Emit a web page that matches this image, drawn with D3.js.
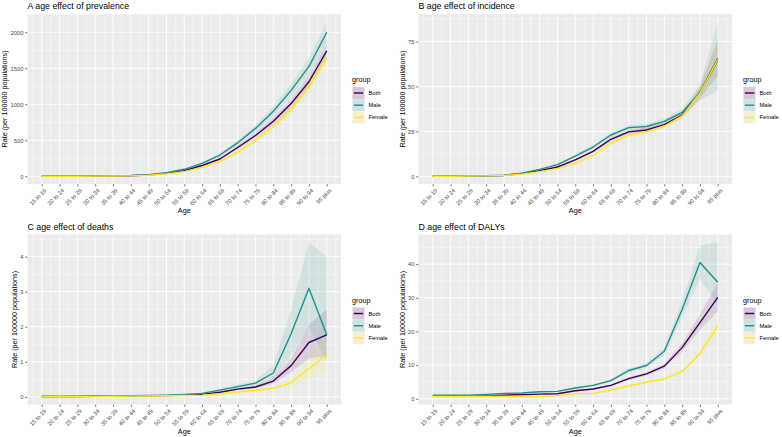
<!DOCTYPE html>
<html><head><meta charset="utf-8">
<script src="https://cdn.jsdelivr.net/npm/d3@7"></script>
<style>
html,body{margin:0;padding:0;background:#fff;}
svg text{font-family:"Liberation Sans",Arial,Helvetica,sans-serif;font-weight:normal;}
</style></head>
<body>
<svg id="chart" width="782" height="437"></svg>
<script>
const ages = ["15 to 19","20 to 24","25 to 29","30 to 34","35 to 39","40 to 44","45 to 49","50 to 54","55 to 59","60 to 64","65 to 69","70 to 74","75 to 79","80 to 84","85 to 89","90 to 94","95 plus"];
const groups = ["Both","Male","Female"];
const colors = ["#440154","#21908C","#FDE725"];

// A prevalence
const prevBoth   = [0.5,1,1.5,2.5,4,8,18,40,78,150,240,400,567,765,1009,1313,1742];
const prevBothLo = [0.4,0.9,1.3,2.2,3.6,7.3,16.6,37,72,139,223,372,528,713,940,1222,1640];
const prevBothHi = [0.6,1.1,1.7,2.8,4.4,8.7,19.4,43,84,161,257,428,606,817,1078,1404,1845];
const prevMale   = [0.6,1.2,2,3,5,10,23,50,97,180,295,465,665,903,1193,1525,2000];
const prevMaleLo = [0.5,1.0,1.8,2.7,4.5,9.2,21,46,89,166,272,430,612,836,1105,1410,1860];
const prevMaleHi = [0.7,1.4,2.2,3.3,5.5,10.8,25,54,105,194,318,500,708,970,1281,1640,2146];
const prevFemale   = [0.4,0.8,1.2,2,3.5,6,14,32,65,120,203,336,498,687,926,1240,1636];
const prevFemaleLo = [0.3,0.7,1.1,1.8,3.2,5.5,12.9,29.5,60,111,188,311,462,638,860,1152,1540];
const prevFemaleHi = [0.5,0.9,1.3,2.2,3.8,6.5,15.1,34.5,70,129,218,361,534,736,992,1328,1730];
const prevTicks = [0,500,1000,1500,2000];

// B incidence
const incBoth   = [0.05,0.1,0.2,0.3,0.5,1.5,3.2,5.2,9.1,13.9,20.6,24.7,25.8,28.8,34.1,46.6,65.5];
const incBothLo = [0.04,0.08,0.17,0.26,0.44,1.35,2.9,4.8,8.5,13.1,19.6,23.6,24.6,27.5,32.5,43.5,56];
const incBothHi = [0.06,0.12,0.23,0.34,0.56,1.65,3.5,5.6,9.7,14.7,21.6,25.8,27.0,30.1,35.7,49.8,76];
const incMale   = [0.05,0.12,0.22,0.35,0.6,1.7,3.9,6.5,11.3,16.3,23.0,27.1,27.7,30.6,35.6,46.4,64.4];
const incMaleLo = [0.04,0.1,0.19,0.3,0.52,1.5,3.5,5.9,10.4,15.2,21.7,25.7,26.3,29.0,33.7,42,48];
const incMaleHi = [0.06,0.14,0.25,0.4,0.68,1.9,4.3,7.1,12.2,17.4,24.3,28.5,29.1,32.2,37.5,51,86];
const incFemale   = [0.04,0.08,0.18,0.25,0.45,1.2,2.6,4.3,7.2,11.7,18.4,23.0,24.7,28.0,33.6,46.2,65.1];
const incFemaleLo = [0.03,0.06,0.15,0.21,0.39,1.05,2.3,3.9,6.6,10.9,17.3,21.8,23.4,26.6,31.8,43,56];
const incFemaleHi = [0.05,0.1,0.21,0.29,0.51,1.35,2.9,4.7,7.8,12.5,19.5,24.2,26.0,29.4,35.4,49.5,75];
const incTicks = [0,25,50,75];

// C deaths
const dthBoth   = [0.01,0.01,0.01,0.015,0.02,0.025,0.03,0.035,0.05,0.07,0.13,0.22,0.28,0.45,0.89,1.55,1.77];
const dthBothLo = [0.005,0.006,0.007,0.01,0.014,0.018,0.022,0.027,0.04,0.058,0.11,0.19,0.24,0.37,0.7,1.1,1.15];
const dthBothHi = [0.015,0.014,0.013,0.02,0.026,0.032,0.038,0.043,0.06,0.082,0.15,0.25,0.32,0.53,1.1,2.05,2.5];
const dthMale   = [0.01,0.012,0.015,0.02,0.025,0.03,0.04,0.05,0.07,0.1,0.19,0.29,0.39,0.68,1.8,3.1,1.77];
const dthMaleLo = [0.004,0.006,0.008,0.012,0.016,0.02,0.028,0.036,0.052,0.078,0.15,0.23,0.32,0.5,1.2,2.0,1.0];
const dthMaleHi = [0.016,0.018,0.022,0.028,0.034,0.04,0.052,0.064,0.088,0.122,0.23,0.35,0.46,0.9,2.5,4.41,4.0];
const dthFemale   = [0.005,0.008,0.01,0.012,0.015,0.02,0.025,0.03,0.04,0.05,0.09,0.14,0.18,0.25,0.4,0.81,1.2];
const dthFemaleLo = [0.002,0.004,0.006,0.007,0.009,0.013,0.017,0.021,0.03,0.04,0.075,0.115,0.15,0.2,0.3,0.5,0.72];
const dthFemaleHi = [0.008,0.012,0.014,0.017,0.021,0.027,0.033,0.039,0.05,0.06,0.105,0.165,0.21,0.3,0.5,1.15,1.7];
const dthTicks = [0,1,2,3,4];

// D DALYs
const dalyBoth   = [0.8,0.85,0.8,0.9,1.1,1.2,1.4,1.5,2.4,2.9,4.0,6.0,7.4,9.7,15.2,22.6,30.1];
const dalyBothLo = [0.7,0.75,0.7,0.8,1.0,1.1,1.3,1.4,2.2,2.7,3.7,5.6,6.9,9.0,14.0,20.5,26];
const dalyBothHi = [0.9,0.95,0.9,1.0,1.2,1.3,1.5,1.6,2.6,3.1,4.3,6.4,7.9,10.4,16.4,25,34.5];
const dalyMale   = [1.1,1.1,1.1,1.3,1.6,1.7,2.1,2.2,3.2,4.0,5.4,8.4,9.9,14.1,26.5,40.5,34.6];
const dalyMaleLo = [1.0,1.0,1.0,1.2,1.5,1.6,1.9,2.0,2.9,3.7,5.0,7.8,9.2,13.0,24.0,35.5,28];
const dalyMaleHi = [1.2,1.2,1.2,1.4,1.7,1.8,2.3,2.4,3.5,4.3,5.8,9.0,10.6,15.2,29,45.5,46.5];
const dalyFemale   = [0.7,0.7,0.7,0.75,0.7,0.75,0.7,0.95,1.5,1.6,2.6,3.8,4.9,5.9,8.1,13.4,21.6];
const dalyFemaleLo = [0.6,0.6,0.6,0.65,0.6,0.65,0.6,0.85,1.35,1.45,2.4,3.5,4.5,5.5,7.5,12.5,19.5];
const dalyFemaleHi = [0.8,0.8,0.8,0.85,0.8,0.85,0.8,1.05,1.65,1.75,2.8,4.1,5.3,6.3,8.7,14.5,24];
const dalyTicks = [0,10,20,30,40];

const panels = [
  {title:"A age effect of prevalence", col:0, row:0, ticks:prevTicks,
   series:[[prevBoth,prevBothLo,prevBothHi],[prevMale,prevMaleLo,prevMaleHi],[prevFemale,prevFemaleLo,prevFemaleHi]]},
  {title:"B age effect of incidence", col:1, row:0, ticks:incTicks,
   series:[[incBoth,incBothLo,incBothHi],[incMale,incMaleLo,incMaleHi],[incFemale,incFemaleLo,incFemaleHi]]},
  {title:"C age effect of deaths", col:0, row:1, ticks:dthTicks,
   series:[[dthBoth,dthBothLo,dthBothHi],[dthMale,dthMaleLo,dthMaleHi],[dthFemale,dthFemaleLo,dthFemaleHi]]},
  {title:"D age effect of DALYs", col:1, row:1, ticks:dalyTicks,
   series:[[dalyBoth,dalyBothLo,dalyBothHi],[dalyMale,dalyMaleLo,dalyMaleHi],[dalyFemale,dalyFemaleLo,dalyFemaleHi]]}
];

const svg = d3.select("#chart");
const PW = 313.5, PH = 170;
const colX = [27.5, 418.5], rowY = [14, 234.5];
const ribbonAlpha = 0.12;
const tickCol = "#4D4D4D";

panels.forEach(p => {
  const x0 = colX[p.col], y0 = rowY[p.row];
  const g = svg.append("g").attr("transform", `translate(${x0},${y0})`);
  const n = ages.length;
  const x = d3.scaleLinear().domain([1 - 0.05*(n-1), n + 0.05*(n-1)]).range([0, PW]);
  let lo = Infinity, hi = -Infinity;
  p.series.forEach(s => s.forEach(a => a.forEach(v => { lo = Math.min(lo, v); hi = Math.max(hi, v); })));
  const R = hi - lo;
  const y = d3.scaleLinear().domain([lo - 0.05*R, hi + 0.05*R]).range([PH, 0]);

  g.append("rect").attr("width", PW).attr("height", PH).attr("fill", "#EBEBEB");
  const step = p.ticks[1] - p.ticks[0];
  const yMinor = [];
  for (let i = -1; i < p.ticks.length; i++) {
    const v = p.ticks[0] + step*(i + 0.5);
    if (v > y.domain()[0] && v < y.domain()[1]) yMinor.push(v);
  }
  const xMinor = d3.range(0.5, n + 1, 1).filter(v => v > x.domain()[0] && v < x.domain()[1]);
  g.selectAll(".ymin").data(yMinor).join("line")
    .attr("x1", 0).attr("x2", PW).attr("y1", d => y(d)).attr("y2", d => y(d))
    .attr("stroke", "#fff").attr("stroke-width", 0.45);
  g.selectAll(".xmin").data(xMinor).join("line")
    .attr("y1", 0).attr("y2", PH).attr("x1", d => x(d)).attr("x2", d => x(d))
    .attr("stroke", "#fff").attr("stroke-width", 0.45);
  g.selectAll(".ymaj").data(p.ticks).join("line")
    .attr("x1", 0).attr("x2", PW).attr("y1", d => y(d)).attr("y2", d => y(d))
    .attr("stroke", "#fff").attr("stroke-width", 0.9);
  g.selectAll(".xmaj").data(d3.range(1, n + 1)).join("line")
    .attr("y1", 0).attr("y2", PH).attr("x1", d => x(d)).attr("x2", d => x(d))
    .attr("stroke", "#fff").attr("stroke-width", 0.9);

  p.series.forEach((s, gi) => {
    const pts = ages.map((a, i) => ({i: i + 1, v: s[0][i], lo: s[1][i], hi: s[2][i]}));
    g.append("path").datum(pts)
      .attr("d", d3.area().x(d => x(d.i)).y0(d => y(d.lo)).y1(d => y(d.hi)))
      .attr("fill", colors[gi]).attr("fill-opacity", ribbonAlpha);
  });
  p.series.forEach((s, gi) => {
    const pts = ages.map((a, i) => ({i: i + 1, v: s[0][i]}));
    g.append("path").datum(pts)
      .attr("d", d3.line().x(d => x(d.i)).y(d => y(d.v)))
      .attr("fill", "none").attr("stroke", colors[gi]).attr("stroke-width", 1.4)
      .attr("stroke-linejoin", "round");
  });

  const yAxis = g.append("g").call(d3.axisLeft(y).tickValues(p.ticks).tickSize(2.5).tickPadding(1.5).tickFormat(d3.format("d")));
  yAxis.select(".domain").remove();
  yAxis.selectAll("line").attr("stroke", "#333").attr("stroke-width", 0.6);
  yAxis.selectAll("text").attr("fill", tickCol).attr("font-size", 5.8).attr("font-family", null);

  const xAxis = g.append("g").attr("transform", `translate(0,${PH})`)
    .call(d3.axisBottom(x).tickValues(d3.range(1, n + 1)).tickSize(2.5).tickFormat(d => ages[d - 1]));
  xAxis.select(".domain").remove();
  xAxis.selectAll("line").attr("stroke", "#333").attr("stroke-width", 0.6);
  xAxis.selectAll("text")
    .attr("fill", tickCol).attr("font-size", 5.8).attr("font-family", null)
    .attr("text-anchor", "end").attr("y", 0).attr("dy", "0.72em")
    .attr("transform", "translate(1.5,4) rotate(-45)");

  g.append("text").attr("x", 0).attr("y", -5).attr("font-size", 8.8).attr("fill", "#000").text(p.title);
  g.append("text").attr("x", PW/2).attr("y", PH + 29).attr("text-anchor", "middle").attr("font-size", 7.2).attr("fill", "#000").text("Age");
  const bb = yAxis.node().getBBox();
  g.append("text").attr("transform", `translate(${bb.x - 3.2},${PH/2}) rotate(-90)`)
    .attr("text-anchor", "middle").attr("font-size", 7.2).attr("fill", "#000").text("Rate (per 100000 populations)");

  const lg = g.append("g").attr("transform", `translate(${PW + 11},${PH/2 - 24})`);
  lg.append("text").attr("x", 0).attr("y", 7).attr("font-size", 7.2).attr("fill", "#000").text("group");
  groups.forEach((gr, gi) => {
    const ky = 12 + gi*12.2;
    lg.append("rect").attr("x", 0.5).attr("y", ky).attr("width", 12).attr("height", 12).attr("fill", "#F2F2F2");
    lg.append("rect").attr("x", 0.5).attr("y", ky).attr("width", 12).attr("height", 12)
      .attr("fill", colors[gi]).attr("fill-opacity", ribbonAlpha + 0.05);
    lg.append("line").attr("x1", 1.8).attr("x2", 11.2).attr("y1", ky + 6).attr("y2", ky + 6)
      .attr("stroke", colors[gi]).attr("stroke-width", 1.4);
    lg.append("text").attr("x", 16.5).attr("y", ky + 8).attr("font-size", 5.8).attr("fill", "#000").text(gr);
  });
});
</script>
</body></html>
